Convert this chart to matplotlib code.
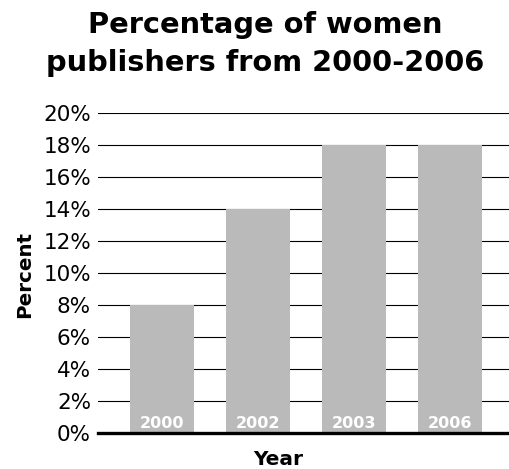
import matplotlib
matplotlib.use('Agg')
import matplotlib.pyplot as plt

# data
years = ['2000', '2002', '2003', '2006']
percent = [8, 14, 18, 18]
yticks = [0, 2, 4, 6, 8, 10, 12, 14, 16, 18, 20]

BAR_COLOR = '#bababa'
plt.rcParams['font.family'] = 'DejaVu Sans'

fig = plt.figure(figsize=(5.09, 4.69), dpi=100)
ax = fig.add_axes([98 / 509, 1 - 433 / 469, (509 - 98) / 509, 320 / 469])

x = list(range(len(years)))
ax.bar(x, percent, width=0.667, color=BAR_COLOR, zorder=3)

for xi, yr in zip(x, years):
    ax.text(xi, 0.12, yr, ha='center', va='bottom', color='white',
            fontsize=11.5, fontweight='bold', zorder=4)

ax.set_xlim(-0.667, 3.615)
ax.set_ylim(0, 20)
ax.set_yticks(yticks)
ax.set_yticklabels([f'{t}%' for t in yticks], fontsize=15.5)
ax.tick_params(axis='y', length=0, pad=5)
ax.set_xticks([])

ax.grid(axis='y', color='black', lw=0.8, zorder=1)
for s in ['top', 'right', 'left']:
    ax.spines[s].set_visible(False)
ax.spines['bottom'].set_linewidth(2.4)
ax.spines['bottom'].set_zorder(5)

fig.text(265 / 509, 1 - 25 / 469, 'Percentage of women', ha='center', va='center',
         fontsize=20.8, fontweight='heavy')
fig.text(265 / 509, 1 - 63 / 469, 'publishers from 2000-2006', ha='center', va='center',
         fontsize=20.8, fontweight='heavy')

fig.text(25 / 509, 1 - 275 / 469, 'Percent', rotation=90, ha='center', va='center',
         fontsize=14.3, fontweight='bold')
fig.text(278 / 509, 1 - 459 / 469, 'Year', ha='center', va='center',
         fontsize=14.5, fontweight='bold')

fig.savefig('out.png', dpi=100, facecolor='white')
